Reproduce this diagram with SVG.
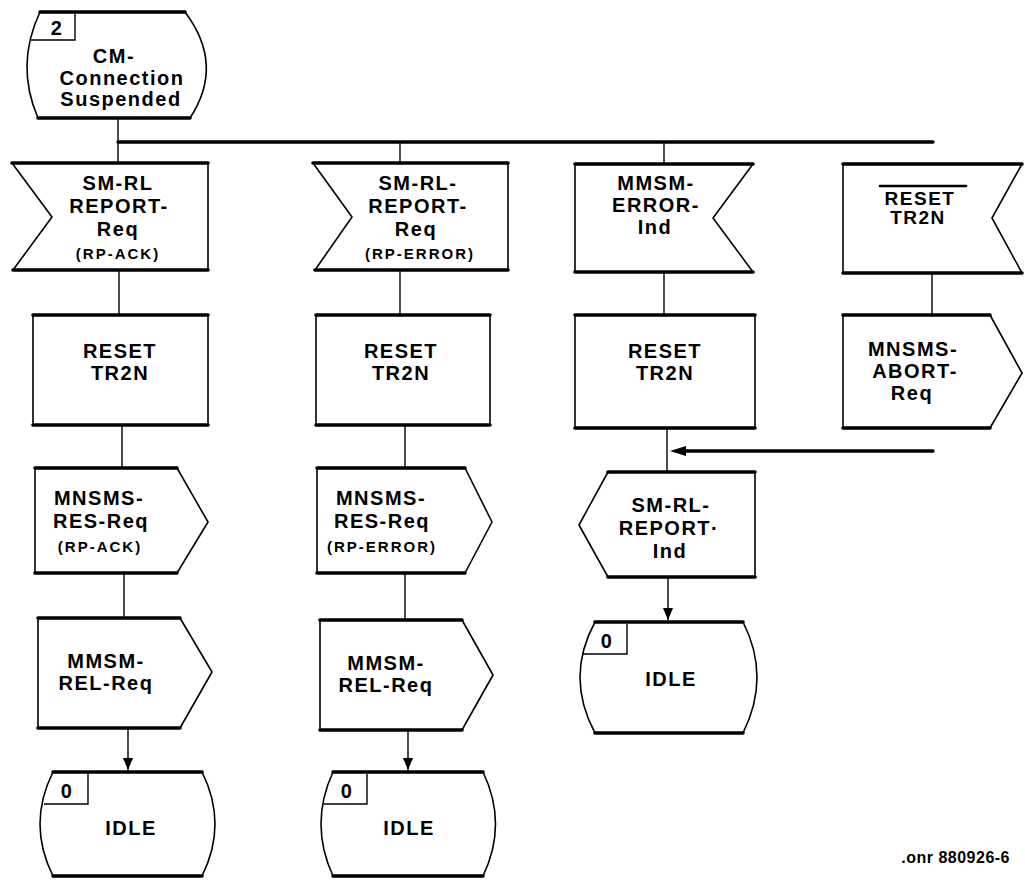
<svg xmlns="http://www.w3.org/2000/svg" width="1025" height="880" viewBox="0 0 1025 880">
<defs>
<marker id="ah" viewBox="0 0 12 10" refX="12" refY="5" markerWidth="12" markerHeight="10" markerUnits="userSpaceOnUse" orient="auto">
<path d="M0,0 L12,5 L0,10 Z" fill="#000"/>
</marker>
<style>
.sh{fill:#fff;stroke:#000;stroke-width:1.6;stroke-linejoin:round}
.ed{fill:none;stroke:#000;stroke-width:3.6;stroke-linecap:round}
.ln{fill:none;stroke:#000;stroke-width:1.4}
.bus{fill:none;stroke:#000;stroke-width:3.4;stroke-linecap:round}
.t{font-family:"Liberation Sans","DejaVu Sans",sans-serif;font-weight:bold;font-size:20px;letter-spacing:1.5px;text-anchor:middle;fill:#000}
.c{font-size:19px;letter-spacing:1.5px}
.s{font-family:"Liberation Sans","DejaVu Sans",sans-serif;font-weight:bold;font-size:15px;letter-spacing:2px;text-anchor:middle;fill:#000}
.n{font-family:"Liberation Sans","DejaVu Sans",sans-serif;font-weight:bold;font-size:16px;letter-spacing:0.5px;text-anchor:end;fill:#000}
</style>
</defs>
<rect width="1025" height="880" fill="#fff"/>

<g id="connectors">
<path class="ln" d="M118,118 V142"/>
<path class="bus" d="M118,142 H933"/>
<path class="ln" d="M118,142 V163"/>
<path class="ln" d="M400,142 V163"/>
<path class="ln" d="M664,142 V164"/>
<path class="ln" d="M119,270 V315"/>
<path class="ln" d="M400,270 V315"/>
<path class="ln" d="M664,272 V315"/>
<path class="ln" d="M932,273 V315"/>
<path class="ln" d="M122,425 V468"/>
<path class="ln" d="M405,425 V468"/>
<path class="ln" d="M667,428 V472"/>
<path class="bus" d="M933,451 H684"/>
<path d="M670,451 L686,446 L686,456 Z" fill="#000"/>
<path class="ln" d="M124,573 V618"/>
<path class="ln" d="M405,573 V620"/>
<path class="ln" d="M668,577 V620" marker-end="url(#ah)"/>
<path class="ln" d="M128,728 V770" marker-end="url(#ah)"/>
<path class="ln" d="M408,730 V770" marker-end="url(#ah)"/>
</g>

<g id="state-cm-suspended">
<path class="sh" d="M40,12 L185,12 Q225,65 190,118 L38,118 Q15,65 40,12 Z"/>
<path class="ed" d="M40,12 H185 M38,118 H190"/>
<path class="ln" d="M75,14 V40 H31"/>
<text class="t" x="57" y="35">2</text>
<text class="t" x="114" y="63">CM-</text>
<text class="t" x="122" y="85">Connection</text>
<text class="t" x="121" y="106">Suspended</text>
</g>

<g id="in-sm-rl-report-req-ack">
<path class="sh" d="M12,163 L208,163 L208,270 L13,270 L52,217 Z"/>
<path class="ed" d="M12,163 H208 M13,270 H208"/>
<text class="t" x="118" y="190">SM-RL</text>
<text class="t" x="119" y="213">REPORT-</text>
<text class="t" x="118" y="236">Req</text>
<text class="s" x="118" y="259">(RP-ACK)</text>
</g>

<g id="in-sm-rl-report-req-error">
<path class="sh" d="M313,163 L508,163 L508,270 L315,270 L352,217 Z"/>
<path class="ed" d="M313,163 H508 M315,270 H508"/>
<text class="t" x="418" y="190">SM-RL-</text>
<text class="t" x="418" y="213">REPORT-</text>
<text class="t" x="416" y="236">Req</text>
<text class="s" x="420" y="259">(RP-ERROR)</text>
</g>

<g id="in-mmsm-error-ind">
<path class="sh" d="M575,164 L753,164 L713,218 L753,272 L575,272 Z"/>
<path class="ed" d="M575,164 H753 M575,272 H753"/>
<text class="t" x="656" y="190">MMSM-</text>
<text class="t" x="656" y="212">ERROR-</text>
<text class="t" x="655" y="234">Ind</text>
</g>

<g id="in-reset-tr2n">
<path class="sh" d="M843,164 L1022,164 L992,218 L1022,273 L843,273 Z"/>
<path class="ed" d="M843,164 H1022 M843,273 H1022"/>
<path class="ed" d="M880,186 H966" style="stroke-width:2.6"/>
<text class="t c" x="920" y="205">RESET</text>
<text class="t c" x="918" y="224">TR2N</text>
</g>

<g id="task-reset-1">
<rect class="sh" x="33" y="315" width="175" height="110"/>
<path class="ed" d="M33,315 H208 M33,425 H208"/>
<text class="t" x="120" y="358">RESET</text>
<text class="t" x="120" y="380">TR2N</text>
</g>

<g id="task-reset-2">
<rect class="sh" x="316" y="315" width="174" height="110"/>
<path class="ed" d="M316,315 H490 M316,425 H490"/>
<text class="t" x="401" y="358">RESET</text>
<text class="t" x="401" y="380">TR2N</text>
</g>

<g id="task-reset-3">
<rect class="sh" x="575" y="315" width="180" height="113"/>
<path class="ed" d="M575,315 H755 M575,428 H755"/>
<text class="t" x="665" y="358">RESET</text>
<text class="t" x="665" y="380">TR2N</text>
</g>

<g id="out-mnsms-abort-req">
<path class="sh" d="M843,315 L990,315 L1022,373 L990,428 L843,428 Z"/>
<path class="ed" d="M843,315 H990 M843,428 H990"/>
<text class="t" x="913" y="356">MNSMS-</text>
<text class="t" x="915" y="378">ABORT-</text>
<text class="t" x="912" y="400">Req</text>
</g>

<g id="out-mnsms-res-req-ack">
<path class="sh" d="M35,468 L177,468 L208,522 L177,573 L35,573 Z"/>
<path class="ed" d="M35,468 H177 M35,573 H177"/>
<text class="t" x="99" y="505">MNSMS-</text>
<text class="t" x="101" y="528">RES-Req</text>
<text class="s" x="100" y="552">(RP-ACK)</text>
</g>

<g id="out-mnsms-res-req-error">
<path class="sh" d="M317,468 L465,468 L492,522 L465,573 L317,573 Z"/>
<path class="ed" d="M317,468 H465 M317,573 H465"/>
<text class="t" x="381" y="505">MNSMS-</text>
<text class="t" x="382" y="528">RES-Req</text>
<text class="s" x="382" y="552">(RP-ERROR)</text>
</g>

<g id="out-sm-rl-report-ind">
<path class="sh" d="M608,472 L755,472 L755,577 L608,577 L579,525 Z"/>
<path class="ed" d="M608,472 H755 M608,577 H755"/>
<text class="t" x="671" y="512">SM-RL-</text>
<text class="t" x="669" y="535">REPORT·</text>
<text class="t" x="670" y="558">Ind</text>
</g>

<g id="out-mmsm-rel-req-1">
<path class="sh" d="M38,618 L180,618 L212,672 L180,728 L38,728 Z"/>
<path class="ed" d="M38,618 H180 M38,728 H180"/>
<text class="t" x="106" y="668">MMSM-</text>
<text class="t" x="106" y="690">REL-Req</text>
</g>

<g id="out-mmsm-rel-req-2">
<path class="sh" d="M320,620 L462,620 L493,675 L462,730 L320,730 Z"/>
<path class="ed" d="M320,620 H462 M320,730 H462"/>
<text class="t" x="386" y="670">MMSM-</text>
<text class="t" x="386" y="692">REL-Req</text>
</g>

<g id="state-idle-1">
<path class="sh" d="M53,772 L202,772 Q228,824 202,876 L53,876 Q27,824 53,772 Z"/>
<path class="ed" d="M53,772 H202 M53,876 H202"/>
<path class="ln" d="M88,774 V804 H44"/>
<text class="t" x="67" y="798">0</text>
<text class="t" x="131" y="835">IDLE</text>
</g>

<g id="state-idle-2">
<path class="sh" d="M333,772 L483,772 Q508,824 483,876 L333,876 Q309,824 333,772 Z"/>
<path class="ed" d="M333,772 H483 M333,876 H483"/>
<path class="ln" d="M367,774 V804 H324"/>
<text class="t" x="347" y="798">0</text>
<text class="t" x="409" y="835">IDLE</text>
</g>

<g id="state-idle-3">
<path class="sh" d="M595,622 L743,622 Q771,677 743,733 L595,733 Q565,677 595,622 Z"/>
<path class="ed" d="M595,622 H743 M595,733 H743"/>
<path class="ln" d="M627,624 V654 H583"/>
<text class="t" x="607" y="648">0</text>
<text class="t" x="671" y="686">IDLE</text>
</g>

<text class="n" x="1010" y="863">.onr 880926-6</text>
</svg>
